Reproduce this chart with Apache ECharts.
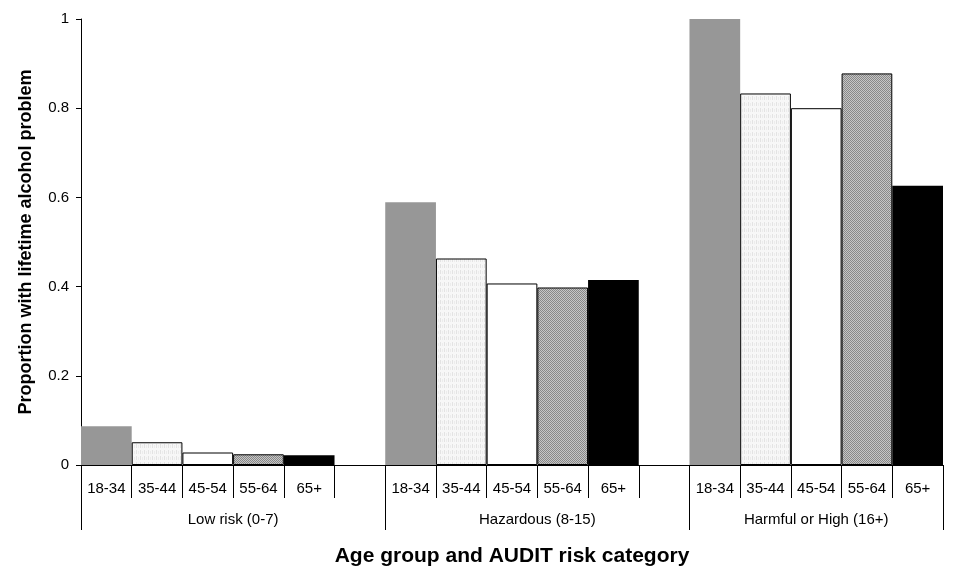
<!DOCTYPE html>
<html><head><meta charset="utf-8">
<script src="https://cdn.jsdelivr.net/npm/echarts@6/dist/echarts.min.js"></script>
<style>html,body{margin:0;padding:0;background:#fff}#c{width:957px;height:584px}</style>
</head><body><div id="c"></div>
<script>
// ---- data ----
const ageGroups = ['18-34', '35-44', '45-54', '55-64', '65+'];
const riskGroups = ['Low risk (0-7)', 'Hazardous (8-15)', 'Harmful or High (16+)'];
const yTicks = [0, 0.2, 0.4, 0.6, 0.8, 1];
const val18_34 = [0.087, 0.589, 1.0];
const val35_44 = [0.051, 0.463, 0.833];
const val45_54 = [0.028, 0.407, 0.800];
const val55_64 = [0.024, 0.398, 0.878];
const val65plus = [0.022, 0.415, 0.626];
const seriesValues = [val18_34, val35_44, val45_54, val55_64, val65plus];

// ---- build slot layout: 5 bars per group, one empty slot between groups ----
const slots = [];
const groupStart = [];
riskGroups.forEach((g, gi) => {
  groupStart.push(slots.length);
  ageGroups.forEach(a => slots.push({key: gi + '|' + a, label: a}));
  if (gi < riskGroups.length - 1) slots.push({key: gi + '|gap', label: ''});
});
const nSlots = slots.length;
const groupEnd = groupStart.map((s, i) => i < groupStart.length - 1 ? groupStart[i + 1] : nSlots);
const groupCenters = groupStart.map((s, i) => (s + groupEnd[i]) / 2);
const groupBounds = groupStart.concat([nSlots]);

function makePattern(w, h, draw) {
  const c = document.createElement('canvas');
  c.width = w; c.height = h;
  const ctx = c.getContext('2d');
  draw(ctx);
  return {image: c, repeat: 'repeat'};
}
const dotted = makePattern(4, 6, ctx => {
  ctx.fillStyle = '#f7f7f7'; ctx.fillRect(0, 0, 4, 6);
  ctx.fillStyle = '#e3e3e3'; ctx.fillRect(0, 0, 1, 4);
  ctx.fillStyle = '#ececec'; ctx.fillRect(2, 1, 1, 3);
});
const checker = makePattern(2, 2, ctx => {
  ctx.fillStyle = '#c6c6c6'; ctx.fillRect(0, 0, 2, 2);
  ctx.fillStyle = '#888888'; ctx.fillRect(0, 0, 1, 1); ctx.fillRect(1, 1, 1, 1);
});
const styles = [
  {color: '#979797', borderWidth: 0},
  {color: dotted, borderColor: '#000', borderWidth: 1},
  {color: '#ffffff', borderColor: '#000', borderWidth: 1},
  {color: checker, borderColor: '#000', borderWidth: 1},
  {color: '#000000', borderWidth: 0}
];

const series = ageGroups.map((a, ai) => {
  const data = slots.map(s => {
    const [gi, lab] = s.key.split('|');
    return lab === a ? seriesValues[ai][+gi] : null;
  });
  return {
    type: 'bar', name: a, data, barWidth: '100%', barGap: '-100%',
    itemStyle: styles[ai], silent: true, animation: false
  };
});

const FONT = '"Liberation Sans", Arial, sans-serif';
const chart = echarts.init(document.getElementById('c'), null, {renderer: 'canvas'});
chart.setOption({
  animation: false,
  grid: {left: 81, right: 14, top: 19, bottom: 119, containLabel: false},
  xAxis: [
    {
      type: 'category', data: slots.map(s => s.key), boundaryGap: true,
      axisLine: {show: true, lineStyle: {color: '#000', width: 1}},
      axisTick: {show: true, interval: 0, length: 33, lineStyle: {color: '#000', width: 1}},
      axisLabel: {interval: 0, margin: 16, color: '#000', fontSize: 15, fontFamily: FONT,
        formatter: v => v.split('|')[1] === 'gap' ? '' : v.split('|')[1]},
      splitLine: {show: false},
      name: 'Age group and AUDIT risk category', nameLocation: 'middle', nameGap: 81,
      nameTextStyle: {color: '#000', fontSize: 21, fontWeight: 'bold', fontFamily: FONT}
    },
    {
      type: 'value', min: 0, max: nSlots, position: 'bottom',
      axisLine: {show: false},
      axisTick: {show: true, customValues: groupBounds, length: 65, lineStyle: {color: '#000', width: 1}},
      axisLabel: {customValues: groupCenters, margin: 47, color: '#000', fontSize: 15, fontFamily: FONT,
        formatter: v => { const i = groupCenters.indexOf(v); return i >= 0 ? riskGroups[i] : ''; }},
      splitLine: {show: false}
    }
  ],
  yAxis: {
    type: 'value', min: yTicks[0], max: yTicks[yTicks.length - 1], interval: yTicks[1] - yTicks[0],
    axisLine: {show: true, lineStyle: {color: '#000', width: 1}},
    axisTick: {show: true, length: 5, lineStyle: {color: '#000'}},
    axisLabel: {margin: 12, color: '#000', fontSize: 15, fontFamily: FONT,
      formatter: v => String(+v.toFixed(1))},
    splitLine: {show: false},
    name: 'Proportion with lifetime alcohol problem', nameLocation: 'middle', nameGap: 46, nameRotate: 90,
    nameTextStyle: {color: '#000', fontSize: 18, fontWeight: 'bold', fontFamily: FONT}
  },
  series
});
</script>
</body></html>
